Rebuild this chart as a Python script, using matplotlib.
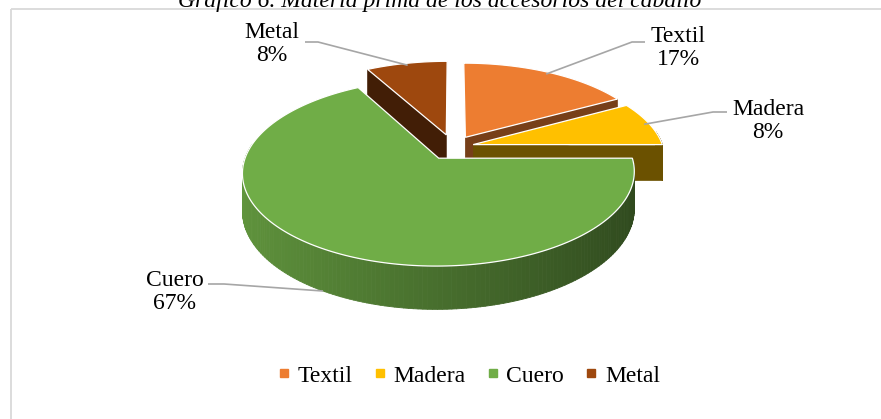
import numpy as np
import matplotlib
matplotlib.use("Agg")
import matplotlib.pyplot as plt
from matplotlib.patches import Polygon, Rectangle
from matplotlib.collections import PolyCollection
from matplotlib.lines import Line2D
from matplotlib.colors import to_rgb

plt.rcParams['font.family'] = ['Liberation Serif', 'DejaVu Serif']

# Data
title = "Gráfico 6. Materia prima de los accesorios del caballo"
categories = ["Textil", "Madera", "Cuero", "Metal"]
percent = [17, 8, 67, 8]
colors = ["#ED7D31", "#FFC000", "#70AD47", "#9E480E"]
explode = [0.13, 0.11, 0.145, 0.145]

# Layout of the 3D pie (pixel space)
CX, CY = 453, 147      # projected centre of top face
RX, RY = 190, 88       # horizontal / vertical radius
K = 0.15               # perspective strength
DEPTH = 36             # thickness of the pie
FS = 17

# label layout: text centre, leader start, leader elbow
label_pos = {
    "Textil": ((678, 48), (645, 42), (632, 42)),
    "Madera": ((768, 121), (727, 112), (713, 112)),
    "Cuero": ((175, 292), (208, 284), (224, 284)),
    "Metal": ((272, 44), (305, 42), (318, 42)),
}


def project(X, Y, bottom=False):
    s = 1.0 / (1.0 + K * np.asarray(Y))
    u = CX + RX * np.asarray(X) * s
    v = CY - RY * np.asarray(Y) * s + (DEPTH * s if bottom else 0)
    return u, v


def shade(c, f):
    return tuple(min(1.0, ch * f) for ch in to_rgb(c))


fig = plt.figure(figsize=(8.81, 4.19), dpi=100)
ax = fig.add_axes([0, 0, 1, 1])
ax.set_xlim(0, 881)
ax.set_ylim(419, 0)
ax.axis('off')

# chart border (only top/left visible)
ax.add_patch(Rectangle((11, 9.5), 1000, 1000, fill=False,
                       edgecolor='#D9D9D9', lw=1.3, zorder=0))

bounds = np.concatenate([[0], np.cumsum(percent)]) / sum(percent) * 360.0

z = 1
for i in [3, 0, 1, 2]:
    t1, t2 = bounds[i], bounds[i + 1]
    mid = np.radians((t1 + t2) / 2)
    ox, oy = explode[i] * np.sin(mid), explode[i] * np.cos(mid)
    th = np.radians(np.linspace(t1, t2, 200))
    Xr, Yr = ox + np.sin(th), oy + np.cos(th)
    tu, tv = project(Xr, Yr)
    bu, bv = project(Xr, Yr, True)
    au, av = project(ox, oy)
    abu, abv = project(ox, oy, True)

    # outer curved side, shaded by angle
    quads, qcols = [], []
    for j in range(len(th) - 1):
        tm = (th[j] + th[j + 1]) / 2
        if np.cos(tm) > 0.15:
            continue
        quads.append([(tu[j], tv[j]), (tu[j + 1], tv[j + 1]),
                      (bu[j + 1], bv[j + 1]), (bu[j], bv[j])])
        qcols.append(shade(colors[i], 0.64 - 0.22 * np.sin(tm)))
    if quads:
        ax.add_collection(PolyCollection(quads, facecolors=qcols,
                                         edgecolors=qcols, linewidths=0.6,
                                         zorder=z))
    z += 1

    # radial faces facing the viewer
    f_side = 0.5 if categories[i] == "Textil" else 0.42
    for t, visible in [(t1, np.sin(np.radians(t1)) < -0.05),
                       (t2, np.sin(np.radians(t2)) > 0.05)]:
        if not visible:
            continue
        tr = np.radians(t)
        ru, rv = project(ox + np.sin(tr), oy + np.cos(tr))
        rbu, rbv = project(ox + np.sin(tr), oy + np.cos(tr), True)
        ax.add_patch(Polygon([(au, av), (ru, rv), (rbu, rbv), (abu, abv)],
                             closed=True, facecolor=shade(colors[i], f_side),
                             edgecolor=shade(colors[i], f_side), lw=0.5,
                             zorder=z))
        z += 1

    # top face
    pts = [(au, av)] + list(zip(tu, tv))
    ax.add_patch(Polygon(pts, closed=True, facecolor=colors[i],
                         edgecolor='white', lw=0.9, zorder=z))
    z += 1

# data labels with leader lines
for i, name in enumerate(categories):
    t1, t2 = bounds[i], bounds[i + 1]
    mid = np.radians((t1 + t2) / 2)
    ox, oy = explode[i] * np.sin(mid), explode[i] * np.cos(mid)
    if np.cos(mid) < -0.5:
        eu, ev = project(ox + np.sin(mid), oy + np.cos(mid), True)
    else:
        eu, ev = project(ox + 0.97 * np.sin(mid), oy + 0.97 * np.cos(mid))
    (tx, ty), p0, p1 = label_pos[name]
    ax.plot([p0[0], p1[0], eu], [p0[1], p1[1], ev], color='#A6A6A6',
            lw=1.2, zorder=50, solid_capstyle='butt')
    ax.text(tx, ty, f"{name}\n{percent[i]}%", ha='center', va='center',
            multialignment='center', fontsize=FS, color='black', zorder=51,
            linespacing=1.15)

# title (clipped at the top like the reference)
ax.text(440, 7.5, title, ha='center', va='baseline', fontsize=FS,
        style='italic', color='black', zorder=51)

handles = [Line2D([0], [0], marker='s', ls='none', color=c, markersize=5.2)
           for c in colors]
ax.legend(handles, categories, loc='center',
          bbox_to_anchor=(469 / 881, 1 - 376 / 419), ncol=4, frameon=False,
          fontsize=FS, handlelength=0.5, handletextpad=0.33,
          columnspacing=0.9, borderaxespad=0, borderpad=0)

fig.savefig("out.png", dpi=100)
